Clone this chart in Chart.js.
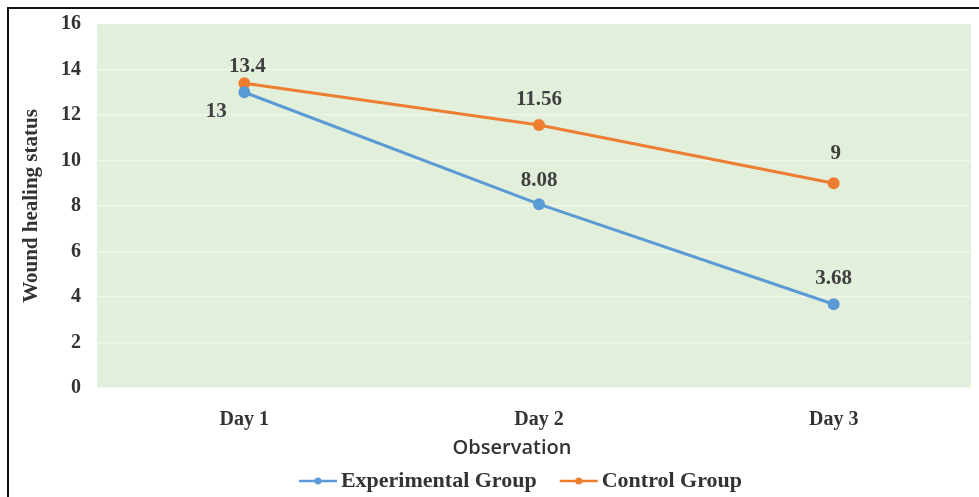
<!DOCTYPE html>
<html>
<head>
<meta charset="utf-8">
<script src="https://cdn.jsdelivr.net/npm/chart.js@4.4.1/dist/chart.umd.min.js"></script>
<style>
  html, body { margin: 0; padding: 0; background: #fff; overflow: hidden; }
  .frame { position: absolute; left: 7px; top: 7px; width: 1000px; height: 520px; border: 2px solid #111; }
  .wrap { position: absolute; left: 0; top: 0; width: 1024px; height: 497px; }
</style>
</head>
<body>
<div class="frame"></div>
<div class="wrap"><canvas id="healChart"></canvas></div>
<script>
  // Data
  const days = ['Day 1', 'Day 2', 'Day 3'];
  const experimental = [13, 8.08, 3.68];
  const control = [13.4, 11.56, 9];
  const yTicks = [0, 2, 4, 6, 8, 10, 12, 14, 16];

  const blue = '#5b9bd5';
  const orange = '#ed7d31';
  const serif = '"Liberation Serif", "Times New Roman", serif';
  const textColor = '#333333';

  // label offsets (dx, dy) relative to each point
  const labelOffsets = {
    0: [[-28, 19], [0, -24], [0, -26]],
    1: [[3, -17], [0, -25], [2, -30]]
  };

  // line + dot swatch used in the legend
  function swatch(color) {
    const c = document.createElement('canvas');
    c.width = 64; c.height = 10;
    const g = c.getContext('2d');
    g.strokeStyle = color; g.lineWidth = 2.5;
    g.beginPath(); g.moveTo(25, 5); g.lineTo(63, 5); g.stroke();
    g.fillStyle = color;
    g.beginPath(); g.arc(44, 5, 3.5, 0, Math.PI * 2); g.fill();
    return c;
  }
  const swatches = [swatch(blue), swatch(orange)];

  const plotBg = {
    id: 'plotBg',
    beforeDraw(chart) {
      const { ctx, chartArea: a } = chart;
      ctx.save();
      ctx.fillStyle = '#e2efda';
      ctx.fillRect(a.left, a.top, Math.min(a.right, 971) - a.left, a.bottom - a.top);
      ctx.restore();
    }
  };

  const valueLabels = {
    id: 'valueLabels',
    afterDatasetsDraw(chart) {
      const ctx = chart.ctx;
      ctx.save();
      ctx.font = 'bold 21px ' + serif;
      ctx.fillStyle = '#404040';
      ctx.textAlign = 'center';
      ctx.textBaseline = 'middle';
      chart.data.datasets.forEach((ds, i) => {
        chart.getDatasetMeta(i).data.forEach((pt, j) => {
          const off = labelOffsets[i][j];
          ctx.fillText(String(ds.data[j]), pt.x + off[0], pt.y + off[1]);
        });
      });
      ctx.restore();
    }
  };

  new Chart(document.getElementById('healChart'), {
    type: 'line',
    data: {
      labels: days,
      datasets: [
        {
          label: 'Experimental Group',
          data: experimental,
          borderColor: blue,
          backgroundColor: blue,
          borderWidth: 3,
          pointRadius: 4.5
        },
        {
          label: 'Control Group',
          data: control,
          borderColor: orange,
          backgroundColor: orange,
          borderWidth: 3,
          pointRadius: 4.5
        }
      ]
    },
    options: {
      responsive: true,
      maintainAspectRatio: false,
      animation: false,
      layout: { padding: { top: 24, right: 0, left: 0, bottom: -5 } },
      scales: {
        x: {
          offset: true,
          grid: { display: false },
          border: { display: false },
          ticks: { padding: 12, color: textColor, font: { family: serif, size: 20, weight: 'bold' } },
          afterFit(s) { s.height = 47; }
        },
        y: {
          min: 0,
          max: 16,
          afterBuildTicks(s) { s.ticks = yTicks.map(v => ({ value: v })); },
          grid: { color: 'rgba(255,255,255,0.45)', lineWidth: 1.5, drawTicks: false },
          border: { display: false },
          ticks: { padding: 16, color: textColor, font: { family: serif, size: 20, weight: 'bold' } },
          title: {
            display: true,
            text: 'Wound healing status',
            color: textColor,
            font: { family: serif, size: 21, weight: 'bold' },
            padding: { top: 19, bottom: 0 }
          },
          afterFit(s) { s.width = 97; s.paddingTop = 0; s.paddingBottom = 0; }
        },
        // empty spacer on the right so the plot stops before the canvas edge
        spacer: {
          position: 'right',
          grid: { display: false },
          border: { display: false },
          ticks: { display: false },
          afterFit(s) { s.width = 43; s.paddingTop = 0; s.paddingBottom = 0; }
        }
      },
      plugins: {
        tooltip: { enabled: false },
        legend: {
          position: 'bottom',
          title: {
            display: true,
            text: 'Observation',
            color: textColor,
            font: { family: '"Open Sans", "Liberation Sans", sans-serif', size: 20, weight: '600' },
            padding: { top: 3, bottom: 2 }
          },
          labels: {
            usePointStyle: true,
            pointStyleWidth: 48,
            color: textColor,
            padding: 6,
            font: { family: serif, size: 22, weight: 'bold' },
            generateLabels(chart) {
              return chart.data.datasets.map((ds, i) => ({
                text: ds.label,
                pointStyle: swatches[i],
                fontColor: textColor,
                datasetIndex: i,
                lineWidth: 0
              }));
            }
          }
        }
      }
    },
    plugins: [plotBg, valueLabels]
  });
</script>
</body>
</html>
